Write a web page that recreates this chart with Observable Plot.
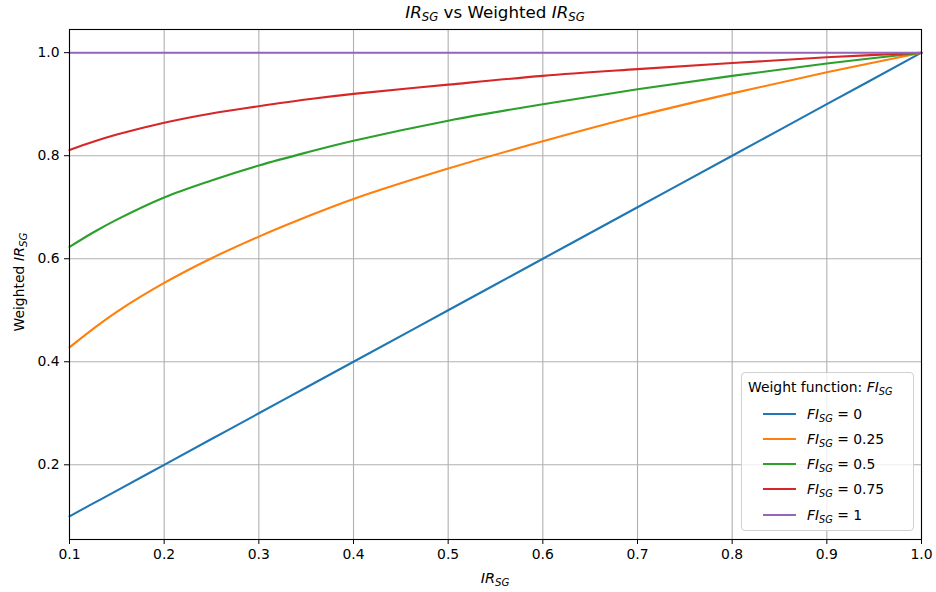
<!DOCTYPE html>
<html><head><meta charset="utf-8">
<script src="https://cdn.jsdelivr.net/npm/d3@7"></script>
<script src="https://cdn.jsdelivr.net/npm/@observablehq/plot@0.6"></script>
<style>
body{margin:0;background:#fff;font-family:"DejaVu Sans",sans-serif;color:#000;}
#wrap{position:relative;width:936px;height:592px;overflow:hidden;}
#title{height:28px;line-height:25px;padding-left:69px;padding-right:15px;text-align:center;font-size:16.7px;white-space:nowrap;}
sub{font-size:70%;vertical-align:-0.28em;line-height:0;}
#chart svg{display:block;}
#legend{position:absolute;left:741px;top:372px;width:171px;height:157px;border:1px solid #d0d0d0;border-radius:4px;background:rgba(255,255,255,0.8);font-size:13.9px;}
#legend .t{position:absolute;left:6px;top:4px;line-height:20px;white-space:nowrap;}
#legend .row{position:absolute;left:0;height:20px;width:100%;}
#legend .sw{position:absolute;left:21px;top:9px;width:33px;height:2px;}
#legend .lab{position:absolute;left:65px;top:0;line-height:20px;white-space:nowrap;}
</style></head>
<body>
<div id="wrap">
<div id="title"><i>IR<sub>SG</sub></i> vs Weighted <i>IR<sub>SG</sub></i></div>
<div id="chart"></div>
<div id="legend"></div>
</div>
<script>
// x values (IR_SG)
const irValues = [0.1, 0.125, 0.15, 0.2, 0.25, 0.3, 0.35, 0.4, 0.5, 0.6, 0.7, 0.8, 0.9, 1.0];
// Weighted IR_SG for each FI_SG
const fi0    = [0.1, 0.125, 0.15, 0.2, 0.25, 0.3, 0.35, 0.4, 0.5, 0.6, 0.7, 0.8, 0.9, 1.0];
const fi025  = [0.428, 0.464, 0.497, 0.553, 0.601, 0.643, 0.681, 0.716, 0.775, 0.828, 0.877, 0.921, 0.962, 1.0];
const fi05   = [0.623, 0.651, 0.676, 0.719, 0.752, 0.781, 0.806, 0.829, 0.868, 0.900, 0.929, 0.955, 0.979, 1.0];
const fi075  = [0.811, 0.827, 0.841, 0.864, 0.882, 0.896, 0.909, 0.920, 0.938, 0.955, 0.968, 0.980, 0.991, 1.0];
const fi1    = [1.0, 1.0, 1.0, 1.0, 1.0, 1.0, 1.0, 1.0, 1.0, 1.0, 1.0, 1.0, 1.0, 1.0];
const seriesNames = ["0", "0.25", "0.5", "0.75", "1"];
const seriesColors = ["#1f77b4", "#ff7f0e", "#2ca02c", "#d62728", "#9467bd"];
const xTicks = [0.1, 0.2, 0.3, 0.4, 0.5, 0.6, 0.7, 0.8, 0.9, 1.0];
const yTicks = [0.2, 0.4, 0.6, 0.8, 1.0];

const allSeries = [fi0, fi025, fi05, fi075, fi1];
const rows = [];
allSeries.forEach((vals, i) => vals.forEach((w, j) => rows.push({fi: seriesNames[i], ir: irValues[j], w})));

const plot = Plot.plot({
  width: 936, height: 564,
  marginTop: 1, marginBottom: 53, marginLeft: 69, marginRight: 15,
  style: {fontFamily: "DejaVu Sans", fontSize: "13.9px", color: "#000", background: "#fff"},
  x: {domain: [0.1, 1.0], label: null},
  y: {domain: [0.055, 1.045], label: null},
  color: {domain: seriesNames, range: seriesColors},
  marks: [
    Plot.gridX(xTicks, {stroke: "#b0b0b0", strokeOpacity: 1, strokeWidth: 1.1}),
    Plot.gridY(yTicks, {stroke: "#b0b0b0", strokeOpacity: 1, strokeWidth: 1.1}),
    Plot.line(rows, {x: "ir", y: "w", z: "fi", stroke: "fi", strokeWidth: 2.1, curve: "catmull-rom"}),
    Plot.frame({stroke: "#000", strokeWidth: 1.1}),
    Plot.axisX(xTicks, {tickFormat: d3.format(".1f"), tickSize: 5, tickPadding: 5, label: null, fill: "#000"}),
    Plot.axisY(yTicks, {tickFormat: d3.format(".1f"), tickSize: 5, tickPadding: 5, label: null, fill: "#000"})
  ]
});
document.getElementById("chart").appendChild(plot);

// axis labels with subscripts
const svg = d3.select(plot);
function irLabel(sel) {
  sel.append("tspan").attr("font-style", "italic").attr("font-size", "14.5px").text("IR");
  sel.append("tspan").attr("font-style", "italic").attr("font-size", "10.2px").attr("dy", "0.3em").text("SG");
}
const xl = svg.append("text").attr("x", 495).attr("y", 555).attr("text-anchor", "middle")
  .attr("font-size", "13.9px").attr("fill", "#000");
irLabel(xl);
const yl = svg.append("text").attr("transform", "translate(23.5,254) rotate(-90)").attr("text-anchor", "middle")
  .attr("font-size", "13.9px").attr("fill", "#000");
yl.append("tspan").text("Weighted ");
irLabel(yl);

// legend
const lg = d3.select("#legend");
lg.append("div").attr("class", "t").html("Weight function: <i>FI<sub>SG</sub></i>");
const centers = [414, 439, 464, 489, 515];
seriesNames.forEach((n, i) => {
  const r = lg.append("div").attr("class", "row").style("top", (centers[i] - 383) + "px");
  r.append("div").attr("class", "sw").style("background", seriesColors[i]);
  r.append("div").attr("class", "lab").html("<i>FI<sub>SG</sub></i> = " + n);
});
</script>
</body></html>
